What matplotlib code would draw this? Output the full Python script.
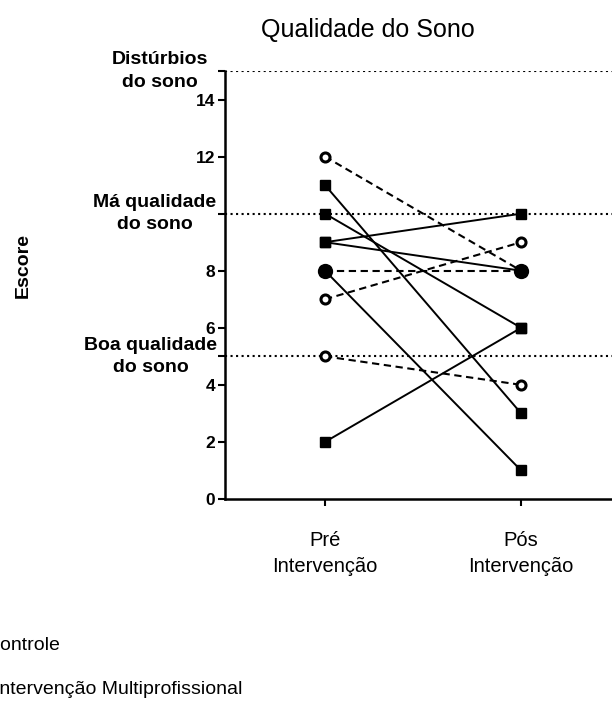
import matplotlib
matplotlib.use("Agg")
import matplotlib.pyplot as plt
import numpy as np

plt.rcParams["font.family"] = ["Liberation Sans", "DejaVu Sans"]

TIMES = ["Pré\nIntervenção", "Pós\nIntervenção"]
# Controle: open circles, dashed lines (pre, post)
CTRL_PRE = [12, 7, 8, 5]
CTRL_POS = [8, 9, 8, 4]
# Intervenção Multiprofissional: filled squares, solid lines
INT_PRE = [11, 10, 9, 9, 8, 2]
INT_POS = [3, 6, 10, 8, 1, 6]
REF_LEVELS = [15, 10, 5]
REF_LABELS = ["Distúrbios\ndo sono", "Má qualidade\ndo sono", "Boa qualidade\ndo sono"]
REF_LABEL_X = [-0.84, -0.87, -0.89]
YTICKS = [0, 2, 4, 6, 8, 12, 14]


def main():
    fig = plt.figure(figsize=(6.12, 7.10), dpi=100)
    ax = fig.add_axes([225 / 612, 211 / 710, 404 / 612, 428 / 710])
    x = np.array([0, 1])

    for y in REF_LEVELS:
        ax.axhline(y, color="black", ls=":", lw=1.5, zorder=1)

    for a, b in zip(INT_PRE, INT_POS):
        ax.plot(x, [a, b], "-", color="black", lw=1.4, marker="s", ms=7.5,
                mfc="black", mec="black", zorder=3)
    for a, b in zip(CTRL_PRE, CTRL_POS):
        ax.plot(x, [a, b], color="black", lw=1.5, dashes=(3.5, 2.2),
                marker="o", ms=6.5, mfc="white", mec="black", mew=2.2, zorder=4)

    # points shared by both groups are drawn as a single filled circle
    for i, (cg, ig) in enumerate([(CTRL_PRE, INT_PRE), (CTRL_POS, INT_POS)]):
        for v in sorted(set(cg) & set(ig)):
            ax.plot(x[i], v, "o", ms=10, color="black", zorder=5)

    ax.set_xlim(-0.51, 1.55)
    ax.set_ylim(0, 15)
    ax.spines["top"].set_visible(False)
    ax.spines["right"].set_visible(False)
    for s in ("left", "bottom"):
        ax.spines[s].set_linewidth(1.8)

    ax.set_yticks(YTICKS)
    ax.set_yticklabels([str(t) for t in YTICKS], fontsize=12.5, fontweight="bold")
    ax.set_yticks(REF_LEVELS, minor=True)
    ax.tick_params(axis="y", which="both", length=5, width=1.5, pad=2)
    ax.set_xticks(x)
    ax.set_xticklabels(TIMES, fontsize=14.5, linespacing=1.45)
    ax.tick_params(axis="x", length=5, width=1.5, pad=18)

    for lab, y, lx in zip(REF_LABELS, REF_LEVELS, REF_LABEL_X):
        ax.text(lx, y, lab, ha="center", va="center", fontsize=14,
                fontweight="bold", linespacing=1.4, clip_on=False)

    fig.text(368 / 612, 1 - 30 / 710, "Qualidade do Sono", ha="center",
             va="center", fontsize=18)
    fig.text(23 / 612, 1 - 266 / 710, "Escore", rotation=90, ha="center",
             va="center", fontsize=14, fontweight="bold")

    fig.text(-14 / 612, 1 - 646 / 710, "Controle", ha="left", va="center",
             fontsize=14)
    fig.text(-6 / 612, 1 - 689 / 710, "Intervenção Multiprofissional",
             ha="left", va="center", fontsize=14)

    fig.savefig("out.png", dpi=100)


if __name__ == "__main__":
    main()
